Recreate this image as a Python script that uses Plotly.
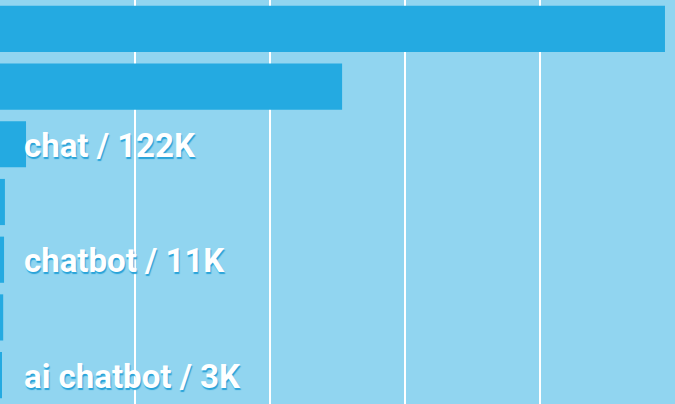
import plotly.graph_objects as go

# bar values (thousands), top to bottom
values = [3118, 1604, 122, 23, 19, 15, 7]
categories = ["k1", "k2", "k3", "k4", "k5", "k6", "k7"]
labels = ["", "", "chat / 122K", "", "chatbot / 11K", "", "ai chatbot / 3K"]

BG = "#91D5F0"
BAR = "#24AAE1"

fig = go.Figure(
    go.Bar(
        x=values,
        y=categories,
        orientation="h",
        marker=dict(color=BAR, line=dict(width=0)),
        hoverinfo="skip",
    )
)

for cat, lab in zip(categories, labels):
    if lab:
        fig.add_annotation(
            x=0, y=cat, xref="paper", yref="y",
            text=lab, showarrow=False,
            xanchor="left", yanchor="middle", xshift=22, yshift=-1,
            font=dict(family="Roboto", size=33, color="white", weight="bold",
                      shadow="1px 2px 1px rgba(35,160,215,0.95)"),
        )

fig.update_layout(
    width=675, height=404,
    margin=dict(l=0, r=0, t=0, b=0),
    paper_bgcolor=BG, plot_bgcolor=BG,
    bargap=0.2,
    showlegend=False,
    xaxis=dict(range=[0, 3165], dtick=633, tick0=0, showgrid=True,
               gridcolor="white", gridwidth=2, zeroline=False,
               showticklabels=False, ticks="", showline=False),
    yaxis=dict(autorange="reversed", showgrid=False, zeroline=False,
               showticklabels=False, ticks="", showline=False),
)

fig.write_html(
    "out.html",
    config={"displayModeBar": False},
    post_script="document.body.style.margin='0';document.body.style.background='%s';" % BG,
)
